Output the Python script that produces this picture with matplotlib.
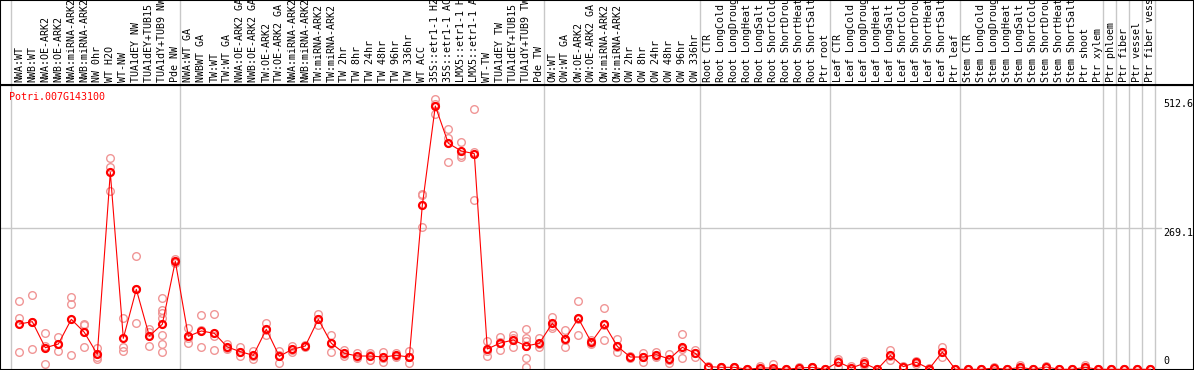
import numpy as np
import matplotlib
matplotlib.use('Agg')
import matplotlib.pyplot as plt
import matplotlib.transforms as mtransforms

gene = 'Potri.007G143100'

labels = ['NWA:WT', 'NWB:WT', 'NWA:OE-ARK2', 'NWB:OE-ARK2', 'NWA:miRNA-ARK2',
          'NWB:miRNA-ARK2', 'NW 0hr', 'WT H2O', 'WT-NW', 'TUA1dEY NW',
          'TUA1dEY+TUB15 NW', 'TUA1dY+TUB9 NW', 'Pde NW',
          'NWA:WT GA', 'NWBWT GA', 'TW:WT', 'TW:WT GA', 'NWA:OE-ARK2 GA',
          'NWB:OE-ARK2 GA', 'TW:OE-ARK2', 'TW:OE-ARK2 GA', 'NWA:miRNA-ARK2',
          'NWB:miRNA-ARK2', 'TW:miRNA-ARK2', 'TW:miRNA-ARK2', 'TW 2hr', 'TW 8hr',
          'TW 24hr', 'TW 48hr', 'TW 96hr', 'TW 336hr', 'WT ACC',
          '35S::etr1-1 H2O', '35S::etr1-1 ACC', 'LMX5::etr1-1 H2O',
          'LMX5::etr1-1 ACC', 'WT-TW', 'TUA1dEY TW', 'TUA1dEY+TUB15 TW',
          'TUA1dY+TUB9 TW', 'Pde TW',
          'OW:WT', 'OW:WT GA', 'OW:OE-ARK2', 'OW:OE-ARK2 GA', 'OW:miRNA-ARK2',
          'OW:miRNA-ARK2', 'OW 2hr', 'OW 8hr', 'OW 24hr', 'OW 48hr', 'OW 96hr',
          'OW 336hr',
          'Root CTR', 'Root LongCold', 'Root LongDrought', 'Root LongHeat',
          'Root LongSalt', 'Root ShortCold', 'Root ShortDrought', 'Root ShortHeat',
          'Root ShortSalt', 'Ptr root',
          'Leaf CTR', 'Leaf LongCold', 'Leaf LongDrought', 'Leaf LongHeat',
          'Leaf LongSalt', 'Leaf ShortCold', 'Leaf ShortDrought', 'Leaf ShortHeat',
          'Leaf ShortSalt', 'Ptr leaf',
          'Stem CTR', 'Stem LongCold', 'Stem LongDrought', 'Stem LongHeat',
          'Stem LongSalt', 'Stem ShortCold', 'Stem ShortDrought', 'Stem ShortHeat',
          'Stem ShortSalt', 'Ptr shoot', 'Ptr xylem',
          'Ptr phloem', 'Ptr fiber', 'Ptr vessel', 'Ptr fiber vessel']

means = [87.1, 91.5, 42.2, 49.2, 96.0, 71.4, 29.7, 374.4, 60.0, 152.8,
         64.4, 86.6, 205.9,
         63.8, 73.9, 69.5, 43.6, 34.7, 27.8, 77.1, 25.9, 39.2, 45.5, 96.0,
         50.6, 31.6, 26.5, 26.5, 24.6, 27.8, 24.6, 311.9, 500.0, 429.4, 414.8,
         409.7, 39.8, 51.1, 56.8, 45.5, 50.6,
         88.4, 58.7, 97.9, 52.5, 86.6, 44.9, 24.6, 24.6, 29.0, 20.8, 43.0, 31.6,
         6.3, 5.1, 5.1, 1.3, 3.8, 3.8, 1.3, 3.8, 5.1, 1.3,
         15.2, 3.8, 12.7, 1.3, 27.8, 6.3, 14.6, 2.5, 34.1, 1.3,
         1.3, 1.3, 3.8, 1.3, 5.1, 1.3, 5.7, 1.3, 1.3, 5.1, 1.3,
         1.3, 1.3, 1.3, 1.3]

reps = [[130.7, 97.9, 33.5], [142.0, 91.5, 39.8], [70.1, 45.7, 10.8],
        [63.1, 49.1, 35.4], [138.3, 125.0, 27.8], [86.5, 84.7, 43.0],
        [41.1, 25.2, 21.4], [401.5, 385.0, 339.6], [97.9, 44.1, 36.6],
        [215.9, 153.5, 89.0], [77.1, 71.4, 44.9],
        [135.8, 113.6, 108.5, 98.5, 65.7, 49.2, 33.5], [210.2, 204.3, 203.2],
        [79.5, 61.3, 50.6], [103.6, 75.1, 43.0], [106.1, 65.1, 37.3],
        [49.2, 41.3, 40.3], [44.1, 33.5, 26.5], [36.0, 27.1, 20.3],
        [89.0, 76.6, 65.7], [36.0, 27.9, 13.8], [45.5, 37.4, 34.7],
        [48.0, 46.0, 43.0], [106.1, 96.7, 85.2], [65.7, 52.0, 34.1],
        [37.9, 29.8, 27.1], [32.8, 24.5, 22.2], [32.8, 27.8, 18.9],
        [34.7, 23.4, 15.7], [32.2, 27.1, 24.1], [36.6, 24.5, 12.7],
        [333.3, 331.0, 271.4], [512.6, 503.4, 484.0], [455.9, 440.0, 394.0],
        [431.8, 406.6, 402.9], [494.3, 412.3, 321.4], [55.5, 36.8, 27.1],
        [63.1, 52.3, 37.9], [66.3, 60.0, 44.1],
        [77.7, 60.0, 55.5, 45.0, 22.2, 5.1], [60.0, 48.8, 43.0],
        [101.0, 84.1, 80.1], [75.8, 57.3, 43.0], [130.7, 96.7, 66.3],
        [56.0, 52.0, 49.5], [116.9, 86.1, 56.8], [58.1, 43.1, 33.5],
        [26.0, 24.6, 23.2], [32.8, 25.3, 15.7], [34.7, 27.1, 25.2],
        [30.3, 19.4, 12.7], [67.6, 39.2, 22.2], [37.9, 31.7, 25.2],
        [7.5, 6.3, 5.1], [6.3, 5.1, 3.8], [6.3, 5.1, 3.8], [1.9, 1.3, 0.6],
        [7.6, 2.5, 1.3], [10.8, 0.6, 0.0], [1.9, 1.3, 0.6], [5.1, 3.8, 2.5],
        [6.3, 5.1, 3.8], [1.3, 1.3, 1.3],
        [21.4, 17.9, 6.3], [7.6, 2.5, 1.3], [17.6, 11.6, 8.9], [1.9, 1.3, 0.6],
        [37.3, 27.2, 18.9], [7.6, 6.3, 5.1], [17.6, 14.5, 11.7], [3.8, 2.5, 1.3],
        [43.0, 34.1, 25.2], [1.3, 1.3, 1.3],
        [1.3, 1.3, 1.3], [1.3, 1.3, 1.3], [5.1, 3.8, 2.5], [1.3, 1.3, 1.3],
        [8.9, 3.8, 2.5], [1.3, 1.3, 1.3], [7.6, 5.7, 3.8], [1.3, 1.3, 1.3],
        [1.3, 1.3, 1.3], [8.9, 3.8, 2.5], [1.3, 1.3, 1.3],
        [1.3, 1.3, 1.3], [1.3, 1.3, 1.3], [1.3, 1.3, 1.3], [1.3, 1.3, 1.3]]

# first column of each sample group (last entry = end)
group_starts = [0, 13, 41, 53, 63, 73, 84, 85, 86, 87, 88]
yticks = [0, 269.1, 512.6]

plt.rcParams['font.family'] = 'DejaVu Sans Mono'
fs = 7.2
grey = '#c8c8c8'

fig = plt.figure(figsize=(11.94, 3.70), dpi=100)
ax = fig.add_axes([0, 0, 1, 285/370])
ax_lab = fig.add_axes([0, 285/370, 1, 85/370], sharex=ax)

x = np.arange(len(labels))
ax.set_xlim(-1.485, 90.36)
ax.set_ylim(0, 539.8)
ax_lab.set_ylim(0, 1)

for g in group_starts:
    ax.axvline(g - 0.654, color=grey, lw=1.0, zorder=1)
    ax_lab.axvline(g - 0.654, color=grey, lw=1.0, zorder=1)
ax.axhline(yticks[1], xmax=1161/1194, color=grey, lw=1.0, zorder=1)

for i, r in enumerate(reps):
    ax.plot([i]*len(r), r, 'o', mfc='none', mec='#f09696', ms=5.5, mew=1.0, zorder=2)
ax.plot(x, means, '-', color='red', lw=0.8, zorder=3)
ax.plot(x, means, 'o', mfc='none', mec='red', ms=5.0, mew=1.6, zorder=4)

# y labels on the right, inside the plot
trans = mtransforms.blended_transform_factory(ax.transAxes, ax.transData)
for v in yticks:
    if v == 0:
        ax.text(1163/1194, v + 7.5, '0', transform=trans, va='bottom', ha='left', fontsize=fs)
    else:
        ax.text(1163/1194, v, '{:g}'.format(v), transform=trans, va='top', ha='left', fontsize=fs)

fig.text(9/1194, 1 - 92/370, gene, color='red', va='top', ha='left', fontsize=fs)

trans_lab = mtransforms.blended_transform_factory(ax_lab.transData, ax_lab.transAxes)
for i, lab in enumerate(labels):
    ax_lab.text(i, 3/85, lab, rotation=90, ha='center', va='bottom', fontsize=fs,
                transform=trans_lab, clip_on=True)

for a in [ax, ax_lab]:
    a.set_xticks([])
    a.set_yticks([])
    for s in a.spines.values():
        s.set_color('black')
        s.set_linewidth(1.5)

plt.savefig('out.png', dpi=100)
